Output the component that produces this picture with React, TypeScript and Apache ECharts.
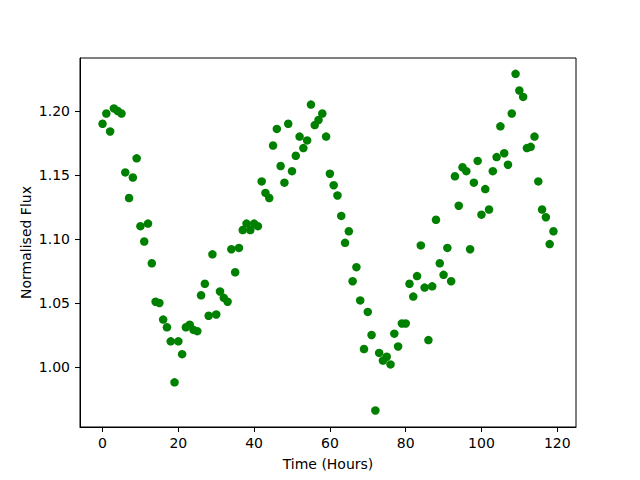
import React, { useEffect, useRef } from "react";
import * as echarts from "echarts";

const hours: number[] = Array.from({ length: 120 }, (_, i) => i);
const flux: number[] = [
  1.190, 1.198, 1.184, 1.202, 1.200, 1.198, 1.152, 1.132, 1.148, 1.163,
  1.110, 1.098, 1.112, 1.081, 1.051, 1.050, 1.037, 1.031, 1.020, 0.988,
  1.020, 1.010, 1.031, 1.033, 1.029, 1.028, 1.056, 1.065, 1.040, 1.088,
  1.041, 1.059, 1.054, 1.051, 1.092, 1.074, 1.093, 1.107, 1.112, 1.107,
  1.112, 1.110, 1.145, 1.136, 1.132, 1.173, 1.186, 1.157, 1.144, 1.190,
  1.153, 1.165, 1.180, 1.171, 1.177, 1.205, 1.189, 1.193, 1.198, 1.180,
  1.151, 1.142, 1.134, 1.118, 1.097, 1.106, 1.067, 1.078, 1.052, 1.014,
  1.043, 1.025, 0.966, 1.011, 1.005, 1.008, 1.002, 1.026, 1.016, 1.034,
  1.034, 1.065, 1.055, 1.071, 1.095, 1.062, 1.021, 1.063, 1.115, 1.081,
  1.072, 1.093, 1.067, 1.149, 1.126, 1.156, 1.153, 1.092, 1.144, 1.161,
  1.119, 1.139, 1.123, 1.153, 1.164, 1.188, 1.167, 1.158, 1.198, 1.229,
  1.216, 1.211, 1.171, 1.172, 1.180, 1.145, 1.123, 1.117, 1.096, 1.106,
];
const xTicks: number[] = [0, 20, 40, 60, 80, 100, 120];
const yTicks: number[] = [1.0, 1.05, 1.1, 1.15, 1.2];

export default function App() {
  const ref = useRef<HTMLDivElement>(null);
  useEffect(() => {
    if (!ref.current) return;
    const chart = echarts.init(ref.current, undefined, { renderer: "svg" });
    const font = "DejaVu Sans";
    chart.setOption({
      animation: false,
      backgroundColor: "#ffffff",
      grid: {
        left: 80,
        top: 58,
        width: 496,
        height: 369,
        show: true,
        borderColor: "#000000",
        borderWidth: 1,
        backgroundColor: "transparent",
      },
      xAxis: {
        type: "value",
        min: -5.95,
        max: 124.95,
        name: "Time (Hours)",
        nameLocation: "middle",
        nameGap: 30,
        nameMoveOverlap: false,
        nameTextStyle: { fontFamily: font, fontSize: 14, color: "#000" },
        axisLine: { show: true, onZero: false, lineStyle: { color: "#000", width: 1 } },
        axisTick: { show: true, length: 5, lineStyle: { color: "#000" }, customValues: xTicks },
        axisLabel: {
          fontFamily: font,
          fontSize: 14,
          color: "#000",
          margin: 9,
          customValues: xTicks,
          formatter: (v: number) => String(Math.round(v)),
        },
        splitLine: { show: false },
      },
      yAxis: {
        type: "value",
        min: 0.9531,
        max: 1.2414,
        name: "Normalised Flux",
        nameLocation: "middle",
        nameGap: 47,
        nameMoveOverlap: false,
        nameTextStyle: { fontFamily: font, fontSize: 14, color: "#000" },
        axisLine: { show: true, onZero: false, lineStyle: { color: "#000", width: 1 } },
        axisTick: { show: true, length: 5, lineStyle: { color: "#000" }, customValues: yTicks },
        axisLabel: {
          fontFamily: font,
          fontSize: 14,
          color: "#000",
          margin: 10,
          customValues: yTicks,
          formatter: (v: number) => v.toFixed(2),
        },
        splitLine: { show: false },
      },
      series: [
        {
          type: "scatter",
          data: hours.map((h, i) => [h, flux[i]]),
          symbol: "circle",
          symbolSize: 8.5,
          itemStyle: { color: "#008000", opacity: 1 },
        },
      ],
    });
    return () => chart.dispose();
  }, []);
  return (
    <div
      ref={ref}
      style={{ position: "fixed", left: 0, top: 0, width: 640, height: 480 }}
    />
  );
}
